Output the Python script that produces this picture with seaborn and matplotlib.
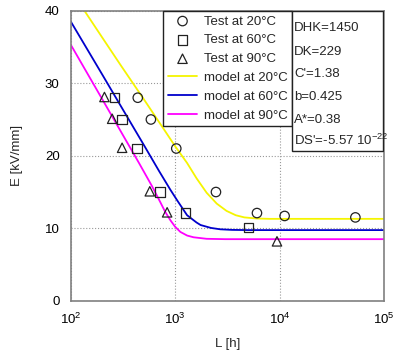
import matplotlib
matplotlib.use('Agg')
import matplotlib.pyplot as plt
import matplotlib.patches as mpatches
import pandas as pd
import seaborn as sns
from matplotlib.ticker import LogLocator, LogFormatterMathtext

# test points
test20_L = [438, 585, 1024, 2457, 6070, 11170, 53200]
test20_E = [28.0, 25.0, 21.0, 15.0, 12.1, 11.7, 11.5]
test60_L = [262, 310, 432, 718, 1256, 5050]
test60_E = [28.0, 25.0, 21.0, 15.0, 12.1, 10.1]
test90_L = [210, 249, 310, 571, 837, 9440]
test90_E = [28.1, 25.1, 21.1, 15.1, 12.2, 8.2]

# model curves
model20_L = [135, 200, 300, 500, 800, 1000, 1300, 1600, 2000, 2500, 3100, 3800, 4600, 6000, 8000, 12000, 100000]
model20_E = [40.0, 36.3, 32.5, 27.8, 23.4, 21.3, 19.0, 16.9, 14.9, 13.4, 12.4, 11.8, 11.5, 11.35, 11.3, 11.3, 11.3]
model60_L = [100, 200, 300, 500, 700, 900, 1050, 1300, 1600, 1750, 2200, 2700, 3500, 5000, 100000]
model60_E = [38.5, 31.2, 26.9, 21.5, 17.9, 15.3, 13.8, 11.8, 10.8, 10.45, 10.05, 9.86, 9.78, 9.75, 9.75]
model90_L = [100, 200, 300, 450, 600, 720, 800, 900, 1000, 1120, 1300, 1500, 2000, 3000, 100000]
model90_E = [35.3, 27.8, 23.4, 19.0, 15.8, 13.6, 12.3, 11.1, 10.2, 9.5, 9.0, 8.76, 8.55, 8.5, 8.5]

params = ["DHK=1450", "DK=229", "C'=1.38", "b=0.425", "A*=0.38", "DS'=-5.57 10$^{-22}$"]

sns.set_style('white')
plt.rcParams['font.family'] = ['Liberation Sans', 'DejaVu Sans']
plt.rcParams['mathtext.fontset'] = 'custom'
plt.rcParams['mathtext.rm'] = 'Liberation Sans'

fs = 9.5
fig = plt.figure(figsize=(4.0, 3.56), dpi=100)
ax = fig.add_axes([0.177, 0.155, 0.783, 0.815])

mk = dict(facecolors='none', edgecolor='#222222', linewidth=0.9, s=46, zorder=3)
sns.scatterplot(x=test20_L, y=test20_E, marker='o', label='Test at 20°C', ax=ax, **mk)
sns.scatterplot(x=test60_L, y=test60_E, marker='s', label='Test at 60°C', ax=ax, **mk)
sns.scatterplot(x=test90_L, y=test90_E, marker='^', label='Test at 90°C', ax=ax, **mk)

df20 = pd.DataFrame({'L': model20_L, 'E': model20_E})
df60 = pd.DataFrame({'L': model60_L, 'E': model60_E})
df90 = pd.DataFrame({'L': model90_L, 'E': model90_E})
sns.lineplot(data=df20, x='L', y='E', color='#f5f500', lw=1.3, label='model at 20°C', ax=ax, sort=False)
sns.lineplot(data=df60, x='L', y='E', color='#0000cc', lw=1.3, label='model at 60°C', ax=ax, sort=False)
sns.lineplot(data=df90, x='L', y='E', color='#ff00ff', lw=1.3, label='model at 90°C', ax=ax, sort=False)

ax.set_xscale('log')
ax.set_xlim(100, 100000)
ax.set_ylim(0, 40)
ax.set_yticks([0, 10, 20, 30, 40])
ax.xaxis.set_major_locator(LogLocator(base=10, numticks=10))
ax.xaxis.set_major_formatter(LogFormatterMathtext())
ax.xaxis.set_minor_locator(plt.NullLocator())
ax.grid(True, which='major', color='#999999', linestyle=':', linewidth=0.8)
for s in ax.spines.values():
    s.set_color('#808080')
    s.set_linewidth(1.2)
ax.tick_params(axis='both', which='major', direction='out', length=5, width=1,
               color='#808080', labelsize=fs, labelcolor='black', pad=3)
ax.set_xlabel('L [h]', fontsize=fs, labelpad=8)
ax.set_ylabel('E [kV/mm]', fontsize=fs, labelpad=16)

handles, labels = ax.get_legend_handles_labels()
leg = ax.legend(handles, labels, loc='upper left', bbox_to_anchor=(0.2956, 1.0),
                borderaxespad=0, fontsize=fs, frameon=True, fancybox=False,
                framealpha=1, edgecolor='#222222', handlelength=2.2,
                handletextpad=0.5, labelspacing=0.5, borderpad=0.35)
leg.get_frame().set_linewidth(1.0)
leg.set_zorder(5)

# parameter box
ax.add_patch(mpatches.Rectangle((0.7073, 0.516), 0.291, 0.484, transform=ax.transAxes,
                                facecolor='white', edgecolor='#222222', lw=1.0, zorder=6))
rows_y = [0.940, 0.858, 0.783, 0.704, 0.623, 0.554]
for txt, yy in zip(params, rows_y):
    ax.text(0.713, yy, txt, transform=ax.transAxes, fontsize=fs, va='center', ha='left', zorder=7)

fig.savefig('out.png', dpi=100)
